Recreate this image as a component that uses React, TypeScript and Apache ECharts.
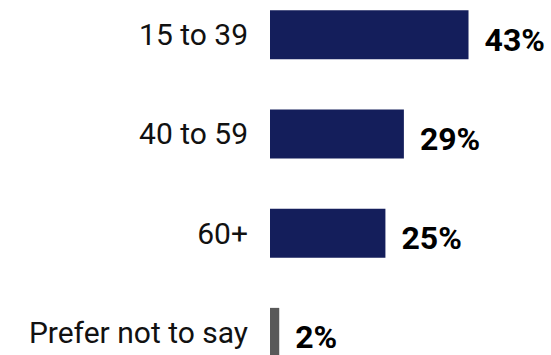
import React, { useEffect, useRef } from "react";
import * as echarts from "echarts";

const categories = ["15 to 39", "40 to 59", "60+", "Prefer not to say"];
const values = [43, 29, 25, 2];
const barColors = ["#141E5B", "#141E5B", "#141E5B", "#595959"];

export default function App() {
  const ref = useRef<HTMLDivElement>(null);
  useEffect(() => {
    if (!ref.current) return;
    const chart = echarts.init(ref.current, null, { renderer: "svg" });
    chart.setOption({
      animation: false,
      backgroundColor: "#ffffff",
      grid: { left: 270, right: 4, top: 0, bottom: 0, containLabel: false },
      xAxis: {
        type: "value",
        min: 0,
        max: 60,
        show: false,
      },
      yAxis: {
        type: "category",
        data: categories,
        inverse: true,
        axisLine: { show: false },
        axisTick: { show: false },
        axisLabel: {
          margin: 22,
          fontSize: 30,
          fontFamily: "Roboto",
          fontWeight: 400,
          color: "#111111",
          padding: [0, 0, 8, 0],
        },
      },
      series: [
        {
          type: "bar",
          barWidth: 49,
          data: values.map((v, i) => ({ value: v, itemStyle: { color: barColors[i] } })),
          label: {
            show: true,
            position: "right",
            distance: 16,
            offset: [0, 5],
            formatter: (p: any) => p.value + "%",
            fontSize: 32,
            fontWeight: "bold",
            fontFamily: "Roboto",
            color: "#000000",
          },
        },
      ],
    });
    return () => chart.dispose();
  }, []);
  return (
    <div style={{ position: "fixed", left: 0, top: 0, width: 551, height: 355, overflow: "hidden", background: "#fff" }}>
      <div ref={ref} style={{ position: "absolute", left: 0, top: -15, width: 551, height: 397 }} />
    </div>
  );
}
